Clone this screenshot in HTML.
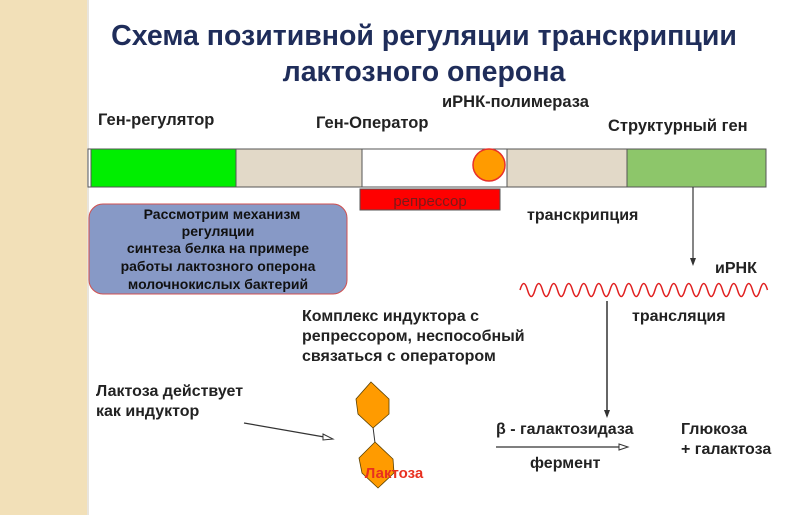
<!DOCTYPE html>
<html><head><meta charset="utf-8"><style>
html,body{margin:0;padding:0;background:#fff;}
svg{display:block;font-family:"Liberation Sans",sans-serif;}
</style></head><body>
<svg width="800" height="515" viewBox="0 0 800 515" xmlns="http://www.w3.org/2000/svg">
<rect x="0" y="0" width="87" height="515" fill="#f2e0b8"/>
<rect x="87" y="0" width="2" height="515" fill="#e8e4dc"/>
<text x="424" y="45" text-anchor="middle" font-size="28.5" font-weight="bold" fill="#1f2d5a">Схема позитивной регуляции транскрипции</text>
<text x="424" y="81" text-anchor="middle" font-size="28.5" font-weight="bold" fill="#1f2d5a">лактозного оперона</text>
<g font-size="16.5" font-weight="bold" fill="#222">
<text x="98" y="125">Ген-регулятор</text>
<text x="316" y="128">Ген-Оператор</text>
<text x="442" y="107">иРНК-полимераза</text>
<text x="608" y="131">Структурный ген</text>
</g>
<rect x="88" y="149" width="678" height="38" fill="#fff" stroke="#555" stroke-width="1"/>
<rect x="91" y="149" width="145" height="38" fill="#00ee00" stroke="#555" stroke-width="1"/>
<rect x="236" y="149" width="126" height="38" fill="#e2d9c8" stroke="#555" stroke-width="1"/>
<rect x="362" y="149" width="145" height="38" fill="#fff" stroke="#555" stroke-width="1"/>
<rect x="507" y="149" width="120" height="38" fill="#e2d9c8" stroke="#555" stroke-width="1"/>
<rect x="627" y="149" width="139" height="38" fill="#8dc66a" stroke="#555" stroke-width="1"/>
<circle cx="489" cy="165" r="16" fill="#ff9b00" stroke="#e8302a" stroke-width="1.5"/>
<rect x="360" y="189" width="140" height="21" fill="#ff0000" stroke="#555" stroke-width="1"/>
<text x="430" y="206" text-anchor="middle" font-size="15" fill="#7a1a1a">репрессор</text>
<rect x="89" y="204" width="258" height="90" rx="14" fill="#8799c6" stroke="#d05050" stroke-width="1"/>
<g font-size="14" font-weight="bold" fill="#111" text-anchor="middle">
<text x="222" y="219">Рассмотрим механизм</text>
<text x="218" y="236">регуляции</text>
<text x="218" y="253">синтеза белка на примере</text>
<text x="218" y="271">работы лактозного оперона</text>
<text x="218" y="289">молочнокислых бактерий</text>
</g>
<g font-size="16" font-weight="bold" fill="#222">
<text x="527" y="220">транскрипция</text>
<text x="715" y="273">иРНК</text>
<text x="632" y="321">трансляция</text>
<text x="302" y="321">Комплекс индуктора с</text>
<text x="302" y="341">репрессором, неспособный</text>
<text x="302" y="361">связаться с оператором</text>
<text x="96" y="396">Лактоза действует</text>
<text x="96" y="416">как индуктор</text>
<text x="496" y="434">β - галактозидаза</text>
<text x="530" y="468">фермент</text>
<text x="681" y="434">Глюкоза</text>
<text x="681" y="454">+ галактоза</text>
</g>
<line x1="693" y1="187" x2="693" y2="264" stroke="#333" stroke-width="1.2"/>
<path d="M690,258 L693,266 L696,258 Z" fill="#333"/>
<path d="M520,290 q3.75,-13 7.5,0 t7.5,0 t7.5,0 t7.5,0 t7.5,0 t7.5,0 t7.5,0 t7.5,0 t7.5,0 t7.5,0 t7.5,0 t7.5,0 t7.5,0 t7.5,0 t7.5,0 t7.5,0 t7.5,0 t7.5,0 t7.5,0 t7.5,0 t7.5,0 t7.5,0 t7.5,0 t7.5,0 t7.5,0 t7.5,0 t7.5,0 t7.5,0 t7.5,0 t7.5,0 t7.5,0 t7.5,0 t7.5,0" fill="none" stroke="#e02020" stroke-width="1.5"/>
<line x1="607" y1="301" x2="607" y2="416" stroke="#333" stroke-width="1.5"/>
<path d="M604,410 L607,418 L610,410 Z" fill="#333"/>
<line x1="244" y1="423" x2="330" y2="438" stroke="#333" stroke-width="1.2"/>
<path d="M323,434 L333,439 L323,440 Z" fill="#fff" stroke="#333" stroke-width="1"/>
<line x1="496" y1="447" x2="625" y2="447" stroke="#333" stroke-width="1.2"/>
<path d="M619,444 L628,447 L619,450 Z" fill="#fff" stroke="#333" stroke-width="1"/>
<line x1="373" y1="427" x2="375" y2="443" stroke="#333" stroke-width="1"/>
<polygon points="371,382 389,399 389,414 373,428 358,414 356,399" fill="#ff9b00" stroke="#5a4000" stroke-width="0.8"/>
<polygon points="375,442 393,459 394,473 378,488 362,473 359,458" fill="#ff9b00" stroke="#5a4000" stroke-width="0.8"/>
<text x="394" y="478" text-anchor="middle" font-size="15" font-weight="bold" fill="#e83020">Лактоза</text>
</svg>
</body></html>
